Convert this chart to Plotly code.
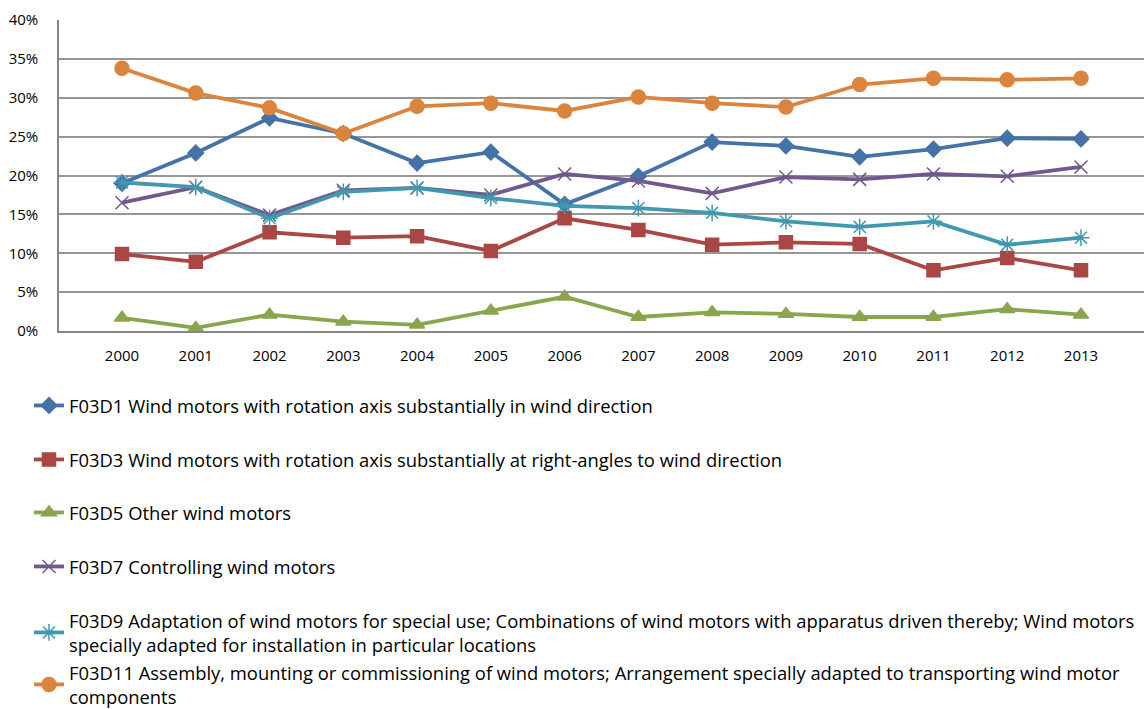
import plotly.graph_objects as go

years = [str(y) for y in range(2000, 2014)]

f03d1 = [19.0, 22.9, 27.4, 25.4, 21.6, 23.0, 16.3, 19.9, 24.3, 23.8, 22.4, 23.4, 24.8, 24.7]
f03d3 = [9.9, 8.9, 12.7, 12.0, 12.2, 10.3, 14.5, 13.0, 11.1, 11.4, 11.2, 7.8, 9.4, 7.8]
f03d5 = [1.7, 0.4, 2.1, 1.2, 0.8, 2.6, 4.4, 1.8, 2.4, 2.2, 1.8, 1.8, 2.8, 2.1]
f03d7 = [16.5, 18.5, 14.9, 18.1, 18.4, 17.5, 20.2, 19.3, 17.7, 19.8, 19.5, 20.2, 19.9, 21.1]
f03d9 = [19.1, 18.5, 14.5, 17.9, 18.4, 17.1, 16.1, 15.8, 15.2, 14.1, 13.4, 14.1, 11.1, 12.0]
f03d11 = [33.8, 30.6, 28.7, 25.4, 28.9, 29.3, 28.3, 30.1, 29.3, 28.8, 31.7, 32.5, 32.3, 32.5]

names = [
    "F03D1 Wind motors with rotation axis substantially in wind direction",
    "F03D3 Wind motors with rotation axis substantially at right-angles to wind direction",
    "F03D5 Other wind motors",
    "F03D7 Controlling wind motors",
    "F03D9 Adaptation of wind motors for special use; Combinations of wind motors with apparatus driven thereby; Wind motors<br>specially adapted for installation in particular locations",
    "F03D11 Assembly, mounting or commissioning of wind motors; Arrangement specially adapted to transporting wind motor<br>components",
]
series = [f03d1, f03d3, f03d5, f03d7, f03d9, f03d11]
colors = ["#4572A7", "#AA4643", "#89A54E", "#71588F", "#4198AF", "#DB843D"]
symbols = ["diamond", "square", "triangle-up", "x-thin-open", "asterisk-open", "circle"]
msizes = [12, 13, 13, 13, 14, 14]
# top y (pixels) of each legend entry
legend_tops = [387, 441, 494, 548, 602, 654]

FONT = "Open Sans, Lato, sans-serif"
H = 709
W = 1145
ml, mr, mt, mb = 59, 1, 20, 378
plot_h = H - mt - mb
plot_w = W - ml - mr

fig = go.Figure()
layout_legends = {}
for i, (nm, vals, c, s, ms) in enumerate(zip(names, series, colors, symbols, msizes)):
    lname = "legend" if i == 0 else f"legend{i+1}"
    fig.add_trace(go.Scatter(
        x=years, y=[v / 100 for v in vals], name=nm, mode="lines+markers",
        line=dict(color=c, width=3.8),
        marker=dict(symbol=s, size=ms, color=c, line=dict(color=c, width=1.5)),
        legend=lname,
    ))
    ypaper = (H - mb - legend_tops[i]) / plot_h
    layout_legends[lname] = dict(
        x=(29 - ml) / plot_w, y=ypaper, xanchor="left", yanchor="top",
        font=dict(family=FONT, size=18.4, color="#000000"),
        bgcolor="rgba(0,0,0,0)", borderwidth=0, itemwidth=30,
    )

fig.update_layout(
    width=W, height=H,
    margin=dict(l=ml, r=mr, t=mt, b=mb, autoexpand=False),
    paper_bgcolor="white", plot_bgcolor="white",
    showlegend=True,
    xaxis=dict(
        type="category", showgrid=False, showline=True, linecolor="#868686", linewidth=1.5,
        ticks="outside", ticklen=0, tickfont=dict(family=FONT, size=15, color="#000000"),
        ticklabelstandoff=10,
    ),
    yaxis=dict(
        range=[0, 0.4], dtick=0.05, tickformat=".0%", showgrid=True, gridcolor="#969696", gridwidth=1.5,
        showline=True, linecolor="#868686", linewidth=1.5, zeroline=False,
        tickfont=dict(family=FONT, size=15, color="#000000"),
        ticklabelstandoff=16,
    ),
    **layout_legends,
)

fig.write_html(
    "out.html",
    config={"displayModeBar": False},
    post_script="document.body.style.margin='0';document.body.style.overflow='hidden';",
)
